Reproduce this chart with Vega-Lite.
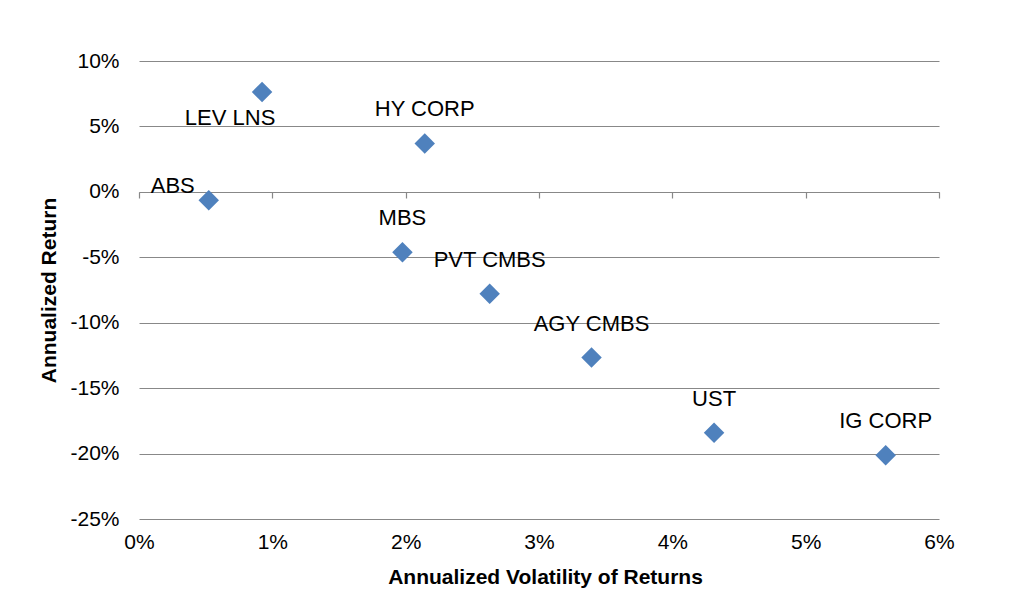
{
  "$schema": "https://vega.github.io/schema/vega-lite/v6.json",
  "width": 800,
  "height": 458,
  "autosize": {"type": "none"},
  "padding": {"left": 139, "top": 61, "right": 85, "bottom": 93},
  "background": "white",
  "config": {
    "view": {"stroke": null},
    "font": "Liberation Sans",
    "text": {"font": "Liberation Sans", "fontSize": 22, "color": "#000000"}
  },
  "data": {
    "values": [
      {"name": "LEV LNS", "volatility": 0.00923, "ret": 0.0763},
      {"name": "HY CORP", "volatility": 0.02143, "ret": 0.037},
      {"name": "ABS", "volatility": 0.00523, "ret": -0.0064},
      {"name": "MBS", "volatility": 0.01976, "ret": -0.0462},
      {"name": "PVT CMBS", "volatility": 0.0263, "ret": -0.0779},
      {"name": "AGY CMBS", "volatility": 0.03394, "ret": -0.1266},
      {"name": "UST", "volatility": 0.04313, "ret": -0.1841},
      {"name": "IG CORP", "volatility": 0.056, "ret": -0.2012}
    ]
  },
  "encoding": {
    "y": {
      "field": "ret",
      "type": "quantitative",
      "scale": {"domain": [-0.25, 0.1], "nice": false, "zero": false},
      "axis": {
        "values": [-0.25, -0.2, -0.15, -0.1, -0.05, 0, 0.05, 0.1],
        "labelExpr": "replace(format(datum.value, '.0%'), '\u2212', '-')",
        "domain": false,
        "ticks": false,
        "grid": true,
        "gridColor": "#888888",
        "gridWidth": 1.2,
        "labelFont": "Liberation Sans",
        "labelFontSize": 21,
        "labelColor": "#000000",
        "labelPadding": 20,
        "title": "Annualized Return",
        "titleFont": "Liberation Sans",
        "titleFontSize": 21,
        "titleFontWeight": "bold",
        "titleColor": "#000000",
        "titlePadding": 10
      }
    }
  },
  "layer": [
    {
      "mark": {"type": "point", "shape": "diamond", "filled": true, "size": 420, "color": "#4F81BD", "opacity": 1},
      "encoding": {
        "x": {
          "field": "volatility",
          "type": "quantitative",
          "scale": {"domain": [0, 0.06], "nice": false},
          "axis": {
            "orient": "bottom",
            "values": [0, 0.01, 0.02, 0.03, 0.04, 0.05, 0.06],
            "format": ".0%",
            "labelFlush": false,
            "domain": false,
            "ticks": false,
            "grid": false,
            "labelFont": "Liberation Sans",
            "labelFontSize": 21,
            "labelColor": "#000000",
            "labelPadding": 12,
            "title": "Annualized Volatility of Returns",
            "titleFont": "Liberation Sans",
            "titleFontSize": 21,
            "titleFontWeight": "bold",
            "titleColor": "#000000",
            "titlePadding": 14,
            "titleX": 406
          }
        }
      }
    },
    {
      "transform": [{"filter": "datum.name != 'LEV LNS' && datum.name != 'ABS'"}],
      "mark": {"type": "text", "dy": -34, "baseline": "middle", "align": "center"},
      "encoding": {
        "x": {
          "field": "volatility",
          "type": "quantitative",
          "axis": {
            "orient": "bottom",
            "values": [0, 0.01, 0.02, 0.03, 0.04, 0.05, 0.06],
            "offset": -327,
            "labels": false,
            "title": null,
            "grid": false,
            "domain": true,
            "domainColor": "#888888",
            "domainWidth": 1.2,
            "ticks": true,
            "tickColor": "#888888",
            "tickWidth": 1.2,
            "tickSize": 6
          }
        },
        "text": {"field": "name"}
      }
    },
    {
      "transform": [{"filter": "datum.name == 'LEV LNS'"}],
      "mark": {"type": "text", "dx": -32, "dy": 26, "baseline": "middle", "align": "center"},
      "encoding": {
        "x": {"field": "volatility", "type": "quantitative", "axis": null},
        "text": {"field": "name"}
      }
    },
    {
      "transform": [{"filter": "datum.name == 'ABS'"}],
      "mark": {"type": "text", "dx": -36, "dy": -14, "baseline": "middle", "align": "center"},
      "encoding": {
        "x": {"field": "volatility", "type": "quantitative", "axis": null},
        "text": {"field": "name"}
      }
    }
  ],
  "resolve": {"axis": {"x": "independent"}}
}
